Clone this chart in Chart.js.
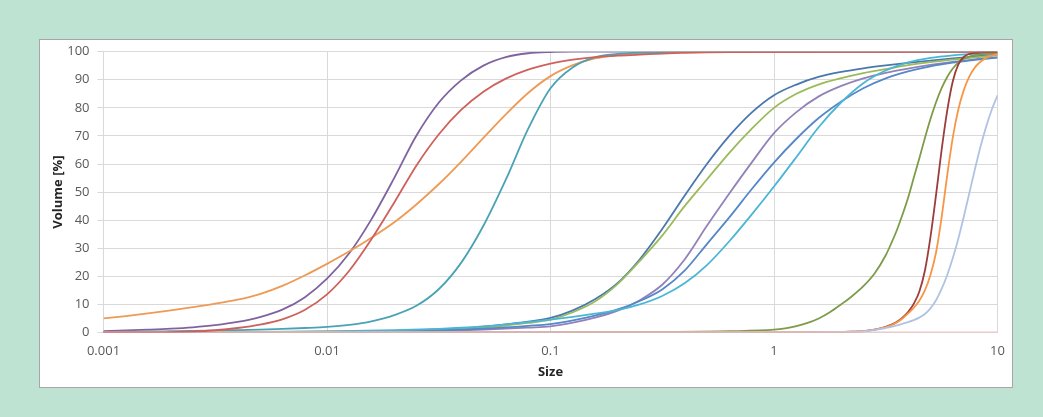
<!DOCTYPE html>
<html>
<head>
<meta charset="utf-8">
<script src="https://cdn.jsdelivr.net/npm/chart.js@4.4.1/dist/chart.umd.min.js"></script>
<style>
  html, body { margin: 0; padding: 0; background: #BFE3D2; width: 1043px; height: 417px; overflow: hidden; }
  #panel { position: absolute; left: 39px; top: 39px; width: 974px; height: 349px; box-sizing: border-box; border: 1px solid #A6A6A6; background: #fff; }
  #panel canvas { display: block; }
</style>
</head>
<body>
<div id="panel"><canvas id="c" width="972" height="347"></canvas></div>
<script>
// Tick labels of the logarithmic size axis
const xTickValues = [0.001, 0.01, 0.1, 1, 10];
const xTickLabels = ['0.001', '0.01', '0.1', '1', '10'];

// ---- Fine group (sampled sizes) ----
const fineSizes = [0.001, 0.00126, 0.00158, 0.002, 0.00251, 0.00316, 0.00398, 0.00501, 0.00631, 0.00794,
  0.01, 0.0126, 0.0158, 0.02, 0.0251, 0.0316, 0.0398, 0.0501, 0.0631, 0.0794,
  0.1, 0.126, 0.158, 0.2, 0.251, 0.316, 0.398, 0.501, 0.631, 10];
const finePurple = [0.5, 0.73, 1.0, 1.35, 1.85, 2.6, 3.75, 5.5, 8.15, 12.5,
  19.15, 28.3, 40.3, 55.05, 70.05, 81.8, 89.8, 95.05, 98.05, 99.45,
  99.9, 100, 100, 100, 100, 100, 100, 100, 100, 100];
const fineRed = [0, 0.02, 0.05, 0.12, 0.35, 0.8, 1.6, 2.8, 4.7, 8.0,
  13.6, 22.1, 33.2, 46.3, 59.4, 70.5, 79.25, 85.75, 90.4, 93.6,
  95.75, 97.15, 98.05, 98.6, 98.95, 99.35, 99.6, 99.8, 99.9, 100];
const fineOrange = [5, 5.85, 6.8, 7.85, 9.0, 10.25, 11.7, 13.7, 16.6, 20.3,
  24.45, 28.9, 33.75, 39.25, 45.6, 52.8, 60.8, 69.3, 77.7, 85.3,
  91.3, 95.2, 97.6, 98.8, 99.4, 99.7, 99.85, 99.95, 100, 100];
const fineTeal = [0.2, 0.27, 0.35, 0.45, 0.55, 0.7, 0.85, 1.05, 1.3, 1.6,
  2.0, 2.75, 4.0, 6.2, 9.5, 15.4, 24.8, 38, 54.4, 72.5,
  87, 94.5, 98, 99.2, 99.7, 99.9, 100, 100, 100, 100];

// ---- Middle group ----
const midSizes = [0.001, 0.00316, 0.01, 0.02, 0.0316, 0.0398, 0.0501, 0.0631, 0.0794,
  0.1, 0.126, 0.158, 0.2, 0.251, 0.316, 0.398, 0.501, 0.631, 0.794,
  1, 1.26, 1.58, 2, 2.51, 3.16, 3.98, 5.01, 6.31, 7.94, 10];
const midDarkBlue = [0, 0.05, 0.3, 0.6, 1.1, 1.5, 2.1, 2.9, 3.9,
  5.2, 7.9, 11.85, 17.7, 26.1, 36.85, 48.7, 60.0, 70.0, 78.3,
  84.5, 88.3, 91.0, 92.8, 94.1, 95.15, 96.05, 96.85, 97.6, 98.3, 99.0];
const midGreen = [0, 0.05, 0.3, 0.6, 1.0, 1.35, 1.8, 2.5, 3.4,
  4.6, 7.2, 11.0, 17.3, 25.5, 34.5, 45.0, 54.5, 64.0, 72.5,
  80.0, 85.0, 88.3, 90.6, 92.4, 93.8, 95.2, 96.3, 97.2, 98.0, 98.7];
const midPurple = [0, 0.02, 0.15, 0.35, 0.6, 0.8, 1.05, 1.35, 1.75,
  2.2, 3.5, 5.3, 7.8, 11.5, 17, 26, 38, 49.5, 60.5,
  71, 78.5, 84, 87.8, 90.5, 92.5, 94, 95.3, 96.4, 97.3, 98];
const midBlue = [0, 0.04, 0.2, 0.45, 0.8, 1.05, 1.4, 1.8, 2.35,
  3.0, 4.3, 6.0, 8.2, 11.2, 15.3, 22, 31.5, 41, 51,
  60.5, 69, 76.3, 82.3, 87, 90.5, 93, 94.8, 96.1, 97.1, 97.9];
const midCyan = [0, 0.1, 0.4, 0.8, 1.3, 1.7, 2.2, 2.9, 3.7,
  4.6, 5.6, 6.7, 8.0, 10.0, 13.0, 17.5, 24, 32.5, 42,
  52, 62.5, 73, 82, 88.8, 93.3, 96.2, 97.8, 98.7, 99.2, 99.5];

// ---- Coarse group ----
const coarseSizes = [0.001, 0.1, 0.316, 0.631, 1, 1.122, 1.259, 1.413, 1.585, 1.778,
  1.995, 2.239, 2.512, 2.818, 3.162, 3.350, 3.548, 3.758, 3.981, 4.217,
  4.467, 4.732, 5.012, 5.309, 5.623, 5.957, 6.310, 6.683, 7.079, 7.499,
  7.943, 8.414, 8.913, 9.441, 10];
const coarseOlive = [0, 0.05, 0.2, 0.45, 1.0, 1.5, 2.3, 3.4, 5.0, 7.2,
  10.0, 13.0, 16.5, 21.0, 27.5, 31.8, 36.5, 42, 48.0, 55,
  62.0, 69.2, 76.0, 82, 87.0, 91, 94.0, 96.1, 97.5, 98.3,
  98.8, 99.05, 99.25, 99.4, 99.5];
const coarseDarkRed = [0, 0, 0, 0, 0.02, 0.03, 0.05, 0.07, 0.1, 0.12,
  0.15, 0.3, 0.5, 1.0, 2.0, 2.8, 3.8, 5.3, 7.3, 10.2,
  14.5, 22, 34, 49, 65, 79, 89.5, 95.5, 98.2, 99.2,
  99.6, 99.75, 99.85, 99.9, 99.95];
const coarseOrange = [0, 0, 0, 0, 0.02, 0.03, 0.05, 0.07, 0.1, 0.12,
  0.15, 0.28, 0.45, 1.0, 1.9, 2.6, 3.6, 5.0, 6.8, 8.8,
  11.3, 15, 20.5, 28.5, 41, 56, 69.5, 79.5, 86.5, 91.3,
  94.5, 96.5, 97.8, 98.6, 99.1];
const coarseLightBlue = [0, 0, 0, 0, 0.02, 0.03, 0.05, 0.07, 0.1, 0.14,
  0.2, 0.3, 0.45, 0.9, 1.6, 2.0, 2.5, 3.1, 3.7, 4.4,
  5.3, 6.6, 8.6, 11.5, 15.5, 20.5, 26.5, 33.5, 41.5, 50,
  58.5, 66.5, 73.5, 79.5, 84.5];

// ---- Flat baseline series ----
const baseSizes = [0.001, 10];
const baseValues = [0, 0];

const seriesList = [
  { sizes: fineSizes, values: finePurple, color: '#7F63A1', order: 0 },
  { sizes: fineSizes, values: fineRed, color: '#CF615D', order: -100 },
  { sizes: fineSizes, values: fineOrange, color: '#EE9A55', order: -2 },
  { sizes: fineSizes, values: fineTeal, color: '#4AA3B5', order: -3 },
  { sizes: midSizes, values: midDarkBlue, color: '#4A78AE', order: -4 },
  { sizes: midSizes, values: midGreen, color: '#9BBB59', order: -5 },
  { sizes: midSizes, values: midPurple, color: '#9382B9', order: -6 },
  { sizes: midSizes, values: midBlue, color: '#5588C8', order: -7 },
  { sizes: midSizes, values: midCyan, color: '#4BB5D5', order: -8 },
  { sizes: coarseSizes, values: coarseOlive, color: '#7E9C48', order: -9 },
  { sizes: coarseSizes, values: coarseDarkRed, color: '#9B3D3B', order: -10 },
  { sizes: coarseSizes, values: coarseOrange, color: '#F79646', order: -11 },
  { sizes: coarseSizes, values: coarseLightBlue, color: '#AFC3E2', order: -12 },
  { sizes: baseSizes, values: baseValues, color: '#F0C4C4', order: -13 }
];

const datasets = seriesList.map((s, k) => ({
  label: 'Series ' + (k + 1),
  data: s.sizes.map((x, i) => ({ x: x, y: s.values[i] })),
  borderColor: s.color,
  backgroundColor: s.color,
  borderWidth: 1.8,
  pointRadius: 0,
  pointHoverRadius: 0,
  fill: false,
  order: s.order,
  cubicInterpolationMode: 'monotone'
}));

const FONT = "'Open Sans', 'Liberation Sans', sans-serif";

new Chart(document.getElementById('c'), {
  type: 'line',
  data: { datasets },
  options: {
    responsive: false,
    animation: false,
    events: [],
    layout: { padding: { left: 0, top: 11.7, right: 14.5, bottom: 0 } },
    plugins: { legend: { display: false }, tooltip: { enabled: false } },
    scales: {
      x: {
        type: 'logarithmic',
        min: 0.001,
        max: 10,
        afterBuildTicks: (scale) => { scale.ticks = xTickValues.map(v => ({ value: v })); },
        afterFit: (scale) => { scale.height = 54.5; scale.paddingLeft = 0; scale.paddingRight = 0; },
        ticks: {
          autoSkip: false,
          maxRotation: 0,
          padding: 11,
          color: '#595959',
          font: { family: FONT, size: 13 },
          callback: (v) => { const i = xTickValues.indexOf(v); return i >= 0 ? xTickLabels[i] : ''; }
        },
        grid: { color: '#D9D9D9', lineWidth: 1, drawTicks: false },
        border: { display: false },
        title: {
          display: true, text: 'Size', color: '#262626',
          font: { family: FONT, size: 13, weight: 'bold' },
          padding: { top: 0, bottom: 7.2 }
        }
      },
      y: {
        type: 'linear',
        min: 0,
        max: 100,
        afterFit: (scale) => { scale.width = 63.5; scale.paddingTop = 0; scale.paddingBottom = 0; },
        ticks: {
          stepSize: 10,
          padding: 8,
          color: '#595959',
          font: { family: FONT, size: 13 }
        },
        grid: { color: '#D9D9D9', lineWidth: 1, tickLength: 6 },
        border: { display: false },
        title: {
          display: true, text: 'Volume [%]', color: '#262626',
          font: { family: FONT, size: 13, weight: 'bold' },
          padding: { top: 10.5, bottom: 0 }
        }
      }
    }
  }
});
</script>
</body>
</html>
